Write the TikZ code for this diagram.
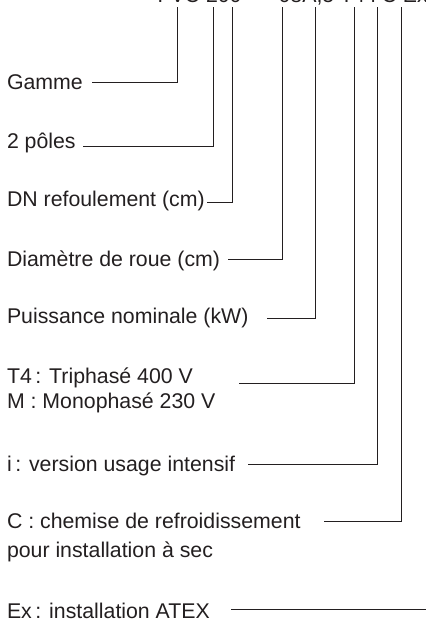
\documentclass[tikz,border=0pt]{standalone}
\usepackage{fontspec}
\setmainfont{Liberation Sans}
\definecolor{ink}{HTML}{231F20}
\tikzset{
  lbl/.style={anchor=base west, inner sep=0pt, outer sep=0pt, text=ink,
    font=\fontsize{21.3}{25}\selectfont},
  conn/.style={draw=ink, line width=0.9pt}
}
\begin{document}
\begin{tikzpicture}[x=1pt,y=-1pt]
\useasboundingbox (0,0) rectangle (426,619);
% code line (only its lower edge lies inside the picture)
\node[lbl] (code) at (157.5,2) {FVC 200\hspace{15pt}-\hspace{15pt}08A,5 T4 i C Ex};
% labels
\node[lbl] (g)  at (7,89.3)  {Gamme};
\node[lbl] (p)  at (7,148.6) {2 pôles};
\node[lbl] (dn) at (7,206)   {DN refoulement (cm)};
\node[lbl] (dr) at (7,266)   {Diamètre de roue (cm)};
\node[lbl] (pn) at (7,323.6) {Puissance nominale (kW)};
\node[lbl] (t4) at (7,383.6) {T4\,: Triphasé 400 V};
\node[lbl] (mo) at (7,408.6) {M : Monophasé 230 V};
\node[lbl] (vi) at (7,471.3) {i\,: version usage intensif};
\node[lbl] (ch) at (7,528.6) {C : chemise de refroidissement};
\node[lbl] (ps) at (7,557.2) {pour installation à sec};
\node[lbl] (ex) at (7,618)   {Ex\,: installation ATEX};
% connector ends
\coordinate (g0)  at (92,82);     \coordinate (g1)  at (177,7);
\coordinate (p0)  at (83,146);    \coordinate (p1)  at (213,7);
\coordinate (dn0) at (207,202.7); \coordinate (dn1) at (232,7);
\coordinate (dr0) at (228,259.3); \coordinate (dr1) at (282,7);
\coordinate (pn0) at (267,318.3); \coordinate (pn1) at (315,7);
\coordinate (t40) at (239,383);   \coordinate (t41) at (354,7);
\coordinate (vi0) at (248,464);   \coordinate (vi1) at (377,7);
\coordinate (ch0) at (324,521);   \coordinate (ch1) at (401.5,7);
\coordinate (ex0) at (231,609);   \coordinate (ex1) at (426,609);
% connectors
\draw[conn] (g0) -| (g1);
\draw[conn] (p0) -| (p1);
\draw[conn] (dn0) -| (dn1);
\draw[conn] (dr0) -| (dr1);
\draw[conn] (pn0) -| (pn1);
\draw[conn] (t40) -| (t41);
\draw[conn] (vi0) -| (vi1);
\draw[conn] (ch0) -| (ch1);
\draw[conn] (ex0) -- (ex1);
\end{tikzpicture}
\end{document}
